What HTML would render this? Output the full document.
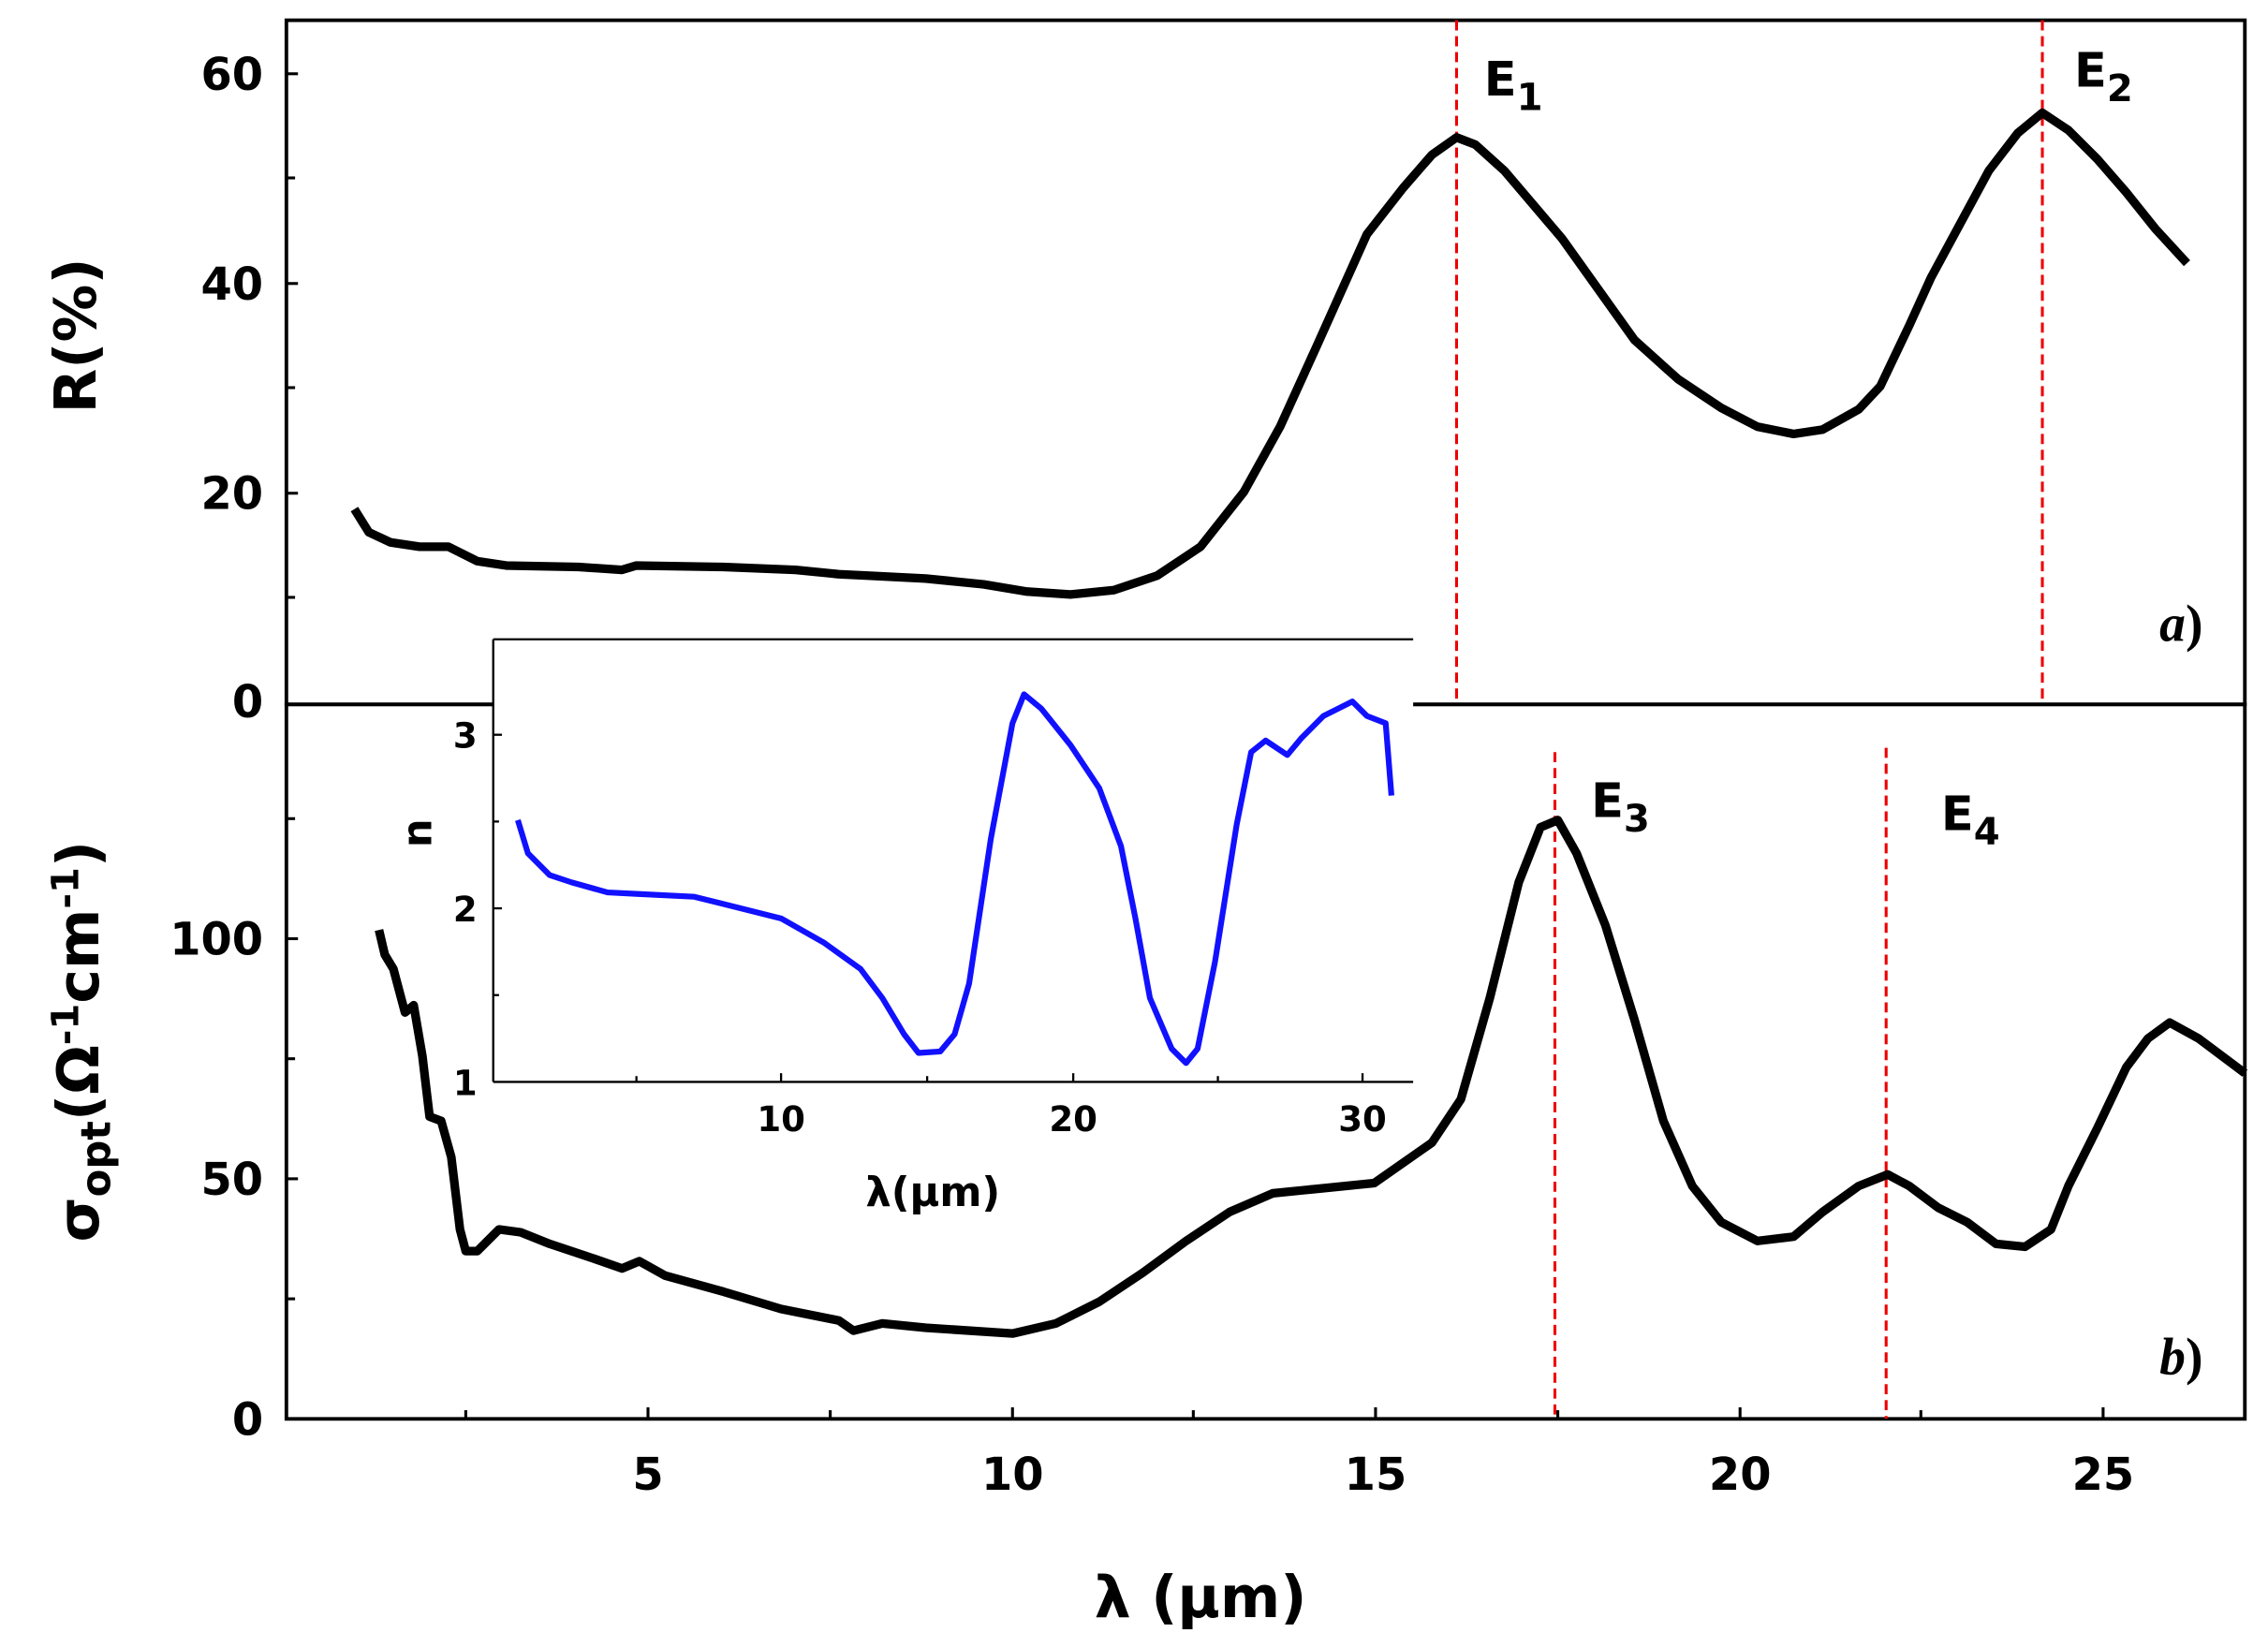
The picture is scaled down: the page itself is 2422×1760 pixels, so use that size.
<!DOCTYPE html>
<html><head><style>html,body{margin:0;padding:0;background:#fff}svg{display:block}</style></head>
<body>
<svg width="2422" height="1760" viewBox="0 0 1568 1139.4" xmlns="http://www.w3.org/2000/svg" font-family="DejaVu Sans, Liberation Sans, sans-serif" font-weight="bold">
<rect width="1568" height="1140" fill="#fff"/>
<!-- panel a -->
<rect x="198" y="14" width="1354" height="473" fill="none" stroke="#000" stroke-width="2.5"/>
<g stroke="#000" stroke-width="2">
<line x1="198" y1="51" x2="206" y2="51"/><line x1="198" y1="123" x2="204" y2="123"/><line x1="198" y1="196" x2="206" y2="196"/><line x1="198" y1="268" x2="204" y2="268"/><line x1="198" y1="341" x2="206" y2="341"/><line x1="198" y1="413" x2="204" y2="413"/>
</g>
<g font-size="31" text-anchor="end">
<text x="182" y="62">60</text><text x="182" y="207">40</text><text x="182" y="352">20</text><text x="182" y="496">0</text>
</g>
<text transform="translate(66,232) rotate(-90)" font-size="40" text-anchor="middle">R(%)</text>
<line x1="1007" y1="14" x2="1007" y2="487" stroke="#e00" stroke-width="2" stroke-dasharray="7,4"/>
<line x1="1412" y1="14" x2="1412" y2="487" stroke="#e00" stroke-width="2" stroke-dasharray="7,4"/>
<text x="1026" y="66" font-size="33">E<tspan font-size="26" dy="10">1</tspan></text>
<text x="1434" y="60" font-size="33">E<tspan font-size="26" dy="10">2</tspan></text>
<text x="1493" y="443" font-size="36" font-family="Liberation Serif, serif" font-style="italic">a<tspan font-style="normal">)</tspan></text>
<polyline fill="none" stroke="#000" stroke-width="6" stroke-linejoin="round" points="245,352 255,368 270,375 290,378 310,378 330,388 350,391 400,392 430,394 440,391 500,392 550,394 580,397 600,398 640,400 680,404 710,409 740,411 770,408 800,398 830,378 860,340 885,295 910,240 945,162 970,130 990,107 1007,95 1020,100 1040,118 1080,165 1110,207 1130,235 1160,262 1190,282 1215,295 1240,300 1260,297 1285,283 1300,267 1320,225 1335,192 1355,155 1375,118 1395,92 1412,78 1430,90 1450,110 1470,133 1490,158 1512,182"/>
<!-- panel b -->
<rect x="198" y="487" width="1354" height="494" fill="none" stroke="#000" stroke-width="2.5"/>
<g stroke="#000" stroke-width="2">
<line x1="198" y1="981" x2="206" y2="981"/><line x1="198" y1="898" x2="204" y2="898"/><line x1="198" y1="815" x2="206" y2="815"/><line x1="198" y1="732" x2="204" y2="732"/><line x1="198" y1="649" x2="206" y2="649"/><line x1="198" y1="566" x2="204" y2="566"/>
<line x1="322" y1="981" x2="322" y2="975"/><line x1="448" y1="981" x2="448" y2="973"/><line x1="574" y1="981" x2="574" y2="975"/><line x1="700" y1="981" x2="700" y2="973"/><line x1="825" y1="981" x2="825" y2="975"/><line x1="951" y1="981" x2="951" y2="973"/><line x1="1077" y1="981" x2="1077" y2="975"/><line x1="1203" y1="981" x2="1203" y2="973"/><line x1="1328" y1="981" x2="1328" y2="975"/><line x1="1454" y1="981" x2="1454" y2="973"/>
</g>
<g font-size="31" text-anchor="end">
<text x="182" y="660">100</text><text x="182" y="826">50</text><text x="182" y="992">0</text>
</g>
<g font-size="31" text-anchor="middle">
<text x="448" y="1030">5</text><text x="700" y="1030">10</text><text x="951" y="1030">15</text><text x="1203" y="1030">20</text><text x="1454" y="1030">25</text>
</g>
<text x="830" y="1118" font-size="40" text-anchor="middle">λ (µm)</text>
<text transform="translate(68,720) rotate(-90)" font-size="40" text-anchor="middle">σ<tspan font-size="28" dy="8">opt</tspan><tspan dy="-8">(Ω</tspan><tspan font-size="26" dy="-14">-1</tspan><tspan dy="14">cm</tspan><tspan font-size="26" dy="-14">-1</tspan><tspan dy="14">)</tspan></text>
<line x1="1075" y1="520" x2="1075" y2="981" stroke="#e00" stroke-width="2" stroke-dasharray="7,4"/>
<line x1="1304" y1="517" x2="1304" y2="981" stroke="#e00" stroke-width="2" stroke-dasharray="7,4"/>
<text x="1100" y="565" font-size="33">E<tspan font-size="26" dy="10">3</tspan></text>
<text x="1342" y="574" font-size="33">E<tspan font-size="26" dy="10">4</tspan></text>
<text x="1493" y="950" font-size="36" font-family="Liberation Serif, serif" font-style="italic">b<tspan font-style="normal">)</tspan></text>
<polyline fill="none" stroke="#000" stroke-width="6" stroke-linejoin="round" points="262,643 266,660 272,670 280,700 286,695 292,730 297,772 305,775 312,800 318,850 322,865 330,865 345,850 360,852 380,860 410,870 430,877 442,872 460,882 500,893 540,905 580,913 590,920 610,915 640,918 700,922 730,915 760,900 790,880 820,858 850,838 880,825 910,822 950,818 990,790 1010,760 1030,690 1050,610 1065,572 1077,567 1090,590 1110,640 1130,705 1150,775 1170,820 1190,845 1215,858 1240,855 1260,838 1285,820 1305,812 1320,820 1340,835 1360,845 1380,860 1400,862 1418,850 1430,820 1450,780 1470,738 1485,718 1500,707 1520,718 1552,742"/>
<!-- inset -->
<rect x="341" y="442" width="636" height="306" fill="#fff"/>
<g stroke="#000" stroke-width="1.5">
<line x1="341" y1="442" x2="977" y2="442"/><line x1="341" y1="442" x2="341" y2="748"/><line x1="341" y1="748" x2="977" y2="748"/>
<line x1="341" y1="508" x2="347" y2="508"/><line x1="341" y1="628" x2="347" y2="628"/><line x1="341" y1="688" x2="345" y2="688"/><line x1="341" y1="568" x2="345" y2="568"/>
<line x1="540" y1="748" x2="540" y2="742"/><line x1="742" y1="748" x2="742" y2="742"/><line x1="942" y1="748" x2="942" y2="742"/><line x1="440" y1="748" x2="440" y2="744"/><line x1="641" y1="748" x2="641" y2="744"/><line x1="842" y1="748" x2="842" y2="744"/>
</g>
<g font-size="24" text-anchor="end">
<text x="330" y="517">3</text><text x="330" y="637">2</text><text x="330" y="757">1</text>
</g>
<g font-size="24" text-anchor="middle">
<text x="540" y="782">10</text><text x="742" y="782">20</text><text x="942" y="782">30</text>
</g>
<text x="645" y="834" font-size="28" text-anchor="middle">λ(µm)</text>
<text transform="translate(298,576) rotate(-90)" font-size="28" text-anchor="middle">n</text>
<polyline fill="none" stroke="#11f" stroke-width="4" stroke-linejoin="round" points="358,567 365,590 375,600 380,605 395,610 420,617 440,618 480,620 500,625 540,635 570,652 595,670 610,690 625,715 635,728 650,727 660,715 670,680 685,580 700,500 708,480 720,490 740,515 760,545 775,585 785,635 795,690 810,725 820,735 828,725 840,665 855,570 865,520 875,512 890,522 900,510 915,495 935,485 945,495 958,500 962,550"/>
</svg>
</body></html>
